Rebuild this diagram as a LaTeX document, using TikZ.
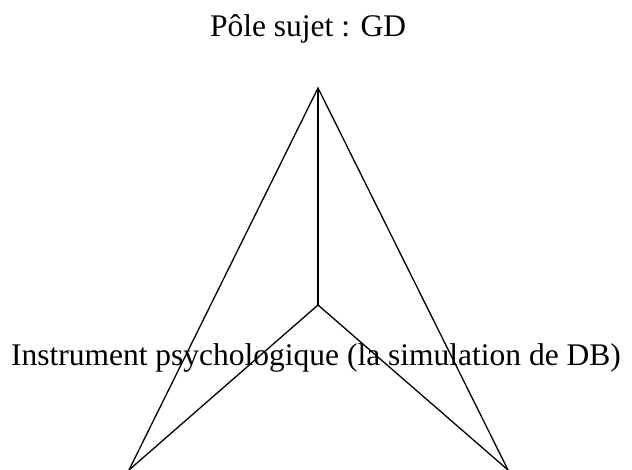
\documentclass[tikz,border=0pt]{standalone}
\usepackage{fontspec}
\setmainfont{Liberation Serif}
\begin{document}
\begin{tikzpicture}[
    x=1pt,
    y=1pt,
    line cap=round,
    line join=round,
    edge/.style={
        line width=1.3pt
    },
    label/.style={
        font=\fontsize{31.5}{36}\selectfont,
        inner sep=0pt,
        anchor=base
    }
]

% =================================================
% Cadre
% =================================================

\useasboundingbox (0,0) rectangle (632,470);

% =================================================
% Sommets
% =================================================

\coordinate (S) at (318,382);
\coordinate (O) at (318,165);
\coordinate (L) at (129,0);
\coordinate (R) at (508,0);

% =================================================
% Triangle et rayons
% =================================================

\draw[edge] (L)--(S)--(R);
\draw[edge] (S)--(O);
\draw[edge] (L)--(O)--(R);

% =================================================
% Textes
% =================================================

\node[label] (sujet) at (308,433) {Pôle sujet : GD};
\node[label] (instrument) at (316,104)
    {Instrument psychologique (la simulation de DB)};

\end{tikzpicture}
\end{document}
